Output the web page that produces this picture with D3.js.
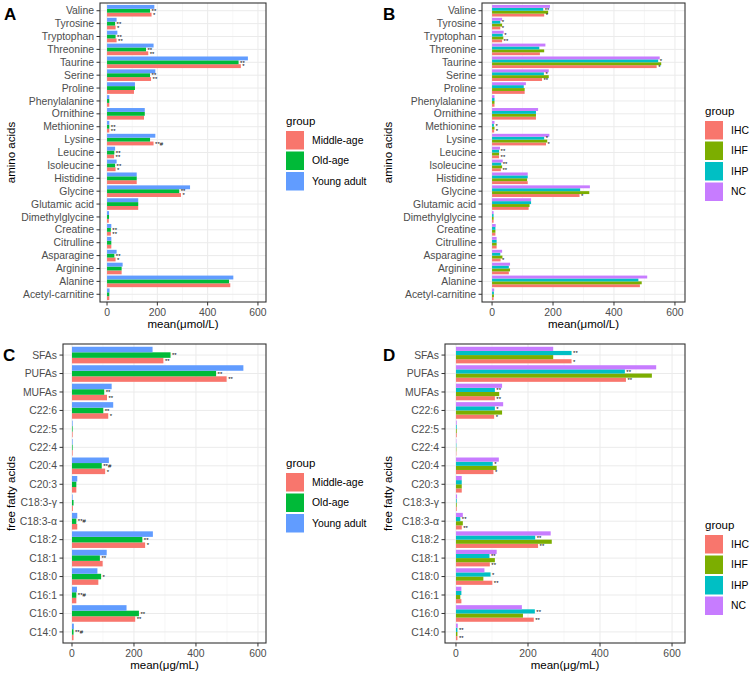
<!DOCTYPE html>
<html>
<head>
<meta charset="utf-8">
<script src="https://cdn.jsdelivr.net/npm/d3@7"></script>
<style>
	body { margin: 0; background: #fff; }
	text { font-family: "Liberation Sans", Arial, sans-serif; }
</style>
</head>
<body>
<svg width="752" height="677"></svg>
<script>
// categories, listed top to bottom as drawn
const aminoAcids = ["Valine", "Tyrosine", "Tryptophan", "Threonine", "Taurine", "Serine", "Proline",
	"Phenylalanine", "Ornithine", "Methionine", "Lysine", "Leucine", "Isoleucine", "Histidine", "Glycine",
	"Glutamic acid", "Dimethylglycine", "Creatine", "Citrulline", "Asparagine", "Arginine", "Alanine",
	"Acetyl-carnitine"];
const fattyAcids = ["SFAs", "PUFAs", "MUFAs", "C22:6", "C22:5", "C22:4", "C20:4", "C20:3", "C18:3-γ",
	"C18:3-α", "C18:2", "C18:1", "C18:0", "C16:1", "C16:0", "C14:0"];

const ageGroups = ["Middle-age", "Old-age", "Young adult"];
const ihGroups = ["IHC", "IHF", "IHP", "NC"];
const xTicks = [0, 200, 400, 600];

// panel A: amino acids by age
const aaMiddle = [177, 34, 38, 164, 532, 175, 107, 9, 147, 9, 185, 28, 34, 118, 294, 124, 7, 15, 17, 34, 58, 490, 9];
const aaOld    = [171, 32, 34, 155, 523, 171, 111, 9, 150, 9, 171, 29, 32, 118, 287, 124, 8, 15, 17, 29, 58, 485, 9];
const aaYoung  = [188, 38, 41, 185, 560, 192, 111, 9, 150, 9, 192, 32, 38, 118, 330, 124, 8, 17, 17, 38, 62, 502, 10];
const aaOldMarks    = ["**", "**", "**", "**", "**", "**", "", "", "", "**", "", "**", "**", "", "**", "", "", "**", "", "**", "", "", ""];
const aaMiddleMarks = ["*", "*", "**", "**", "*", "**", "", "", "", "**", "**#", "**", "*", "", "*", "", "", "**", "", "*", "", "", ""];

// panel B: amino acids by IH group
const aaIHC = [171, 27, 33, 157, 540, 164, 107, 8, 144, 7, 177, 23, 29, 117, 287, 120, 5, 11, 15, 28, 55, 485, 5];
const aaIHF = [184, 33, 37, 171, 555, 186, 107, 8, 144, 8, 181, 23, 33, 115, 319, 123, 5, 11, 15, 34, 59, 491, 6];
const aaIHP = [168, 27, 35, 155, 545, 170, 104, 8, 144, 6, 171, 23, 30, 117, 289, 128, 5, 11, 15, 27, 55, 480, 6];
const aaNC  = [190, 33, 38, 175, 550, 186, 111, 8, 151, 8, 188, 26, 35, 117, 321, 128, 5, 12, 15, 33, 59, 509, 7];
const aaIHPMarks = ["**", "*", "*", "", "*", "*", "", "", "", "*", "*", "**", "**", "", "", "", "", "", "", "", "", "", ""];
const aaIHCMarks = ["*", "*", "**", "", "*", "**", "", "", "", "*", "*", "**", "**", "", "*", "", "", "", "", "*", "", "", ""];

// panel C: fatty acids by age
const faMiddle = [295, 499, 113, 117, 2, 2, 107, 14, 3, 17, 236, 99, 85, 14, 204, 5];
const faOld    = [318, 465, 104, 101, 2, 2, 96, 14, 5, 14, 227, 90, 94, 14, 216, 5];
const faYoung  = [260, 553, 128, 133, 2, 2, 119, 17, 2, 17, 261, 112, 82, 16, 176, 6];
const faOldMarks    = ["**", "**", "**", "**", "", "", "**#", "", "", "**#", "**", "**", "*", "**#", "**", "**#"];
const faMiddleMarks = ["**", "**", "**", "*", "", "", "*", "", "", "", "*", "", "", "", "**", ""];

// panel D: fatty acids by IH group
const faIHC = [321, 472, 108, 106, 2, 1, 104, 16, 2, 16, 228, 94, 101, 15, 216, 4];
const faIHF = [270, 544, 120, 128, 2, 1, 113, 16, 2, 19, 266, 108, 76, 12, 186, 4];
const faIHP = [321, 469, 108, 108, 2, 1, 102, 16, 2, 12, 220, 93, 96, 15, 219, 4];
const faNC  = [270, 556, 128, 131, 2, 1, 119, 16, 3, 19, 263, 113, 79, 15, 183, 5];
const faIHPMarks = ["**", "**", "**", "*", "", "", "*", "", "", "**", "**", "**", "*", "", "**", "**"];
const faIHCMarks = ["*", "**", "**", "*", "", "", "*", "", "", "**", "**", "**", "**", "", "**", "**"];

const ageColours = ["#F8766D", "#00BA38", "#619CFF"];
const ihColours = ["#F8766D", "#7CAE00", "#00BFC4", "#C77CFF"];

const svg = d3.select("svg");

function drawPanel(cfg) {
	const g = svg.append("g");
	const x = d3.scaleLinear().domain(cfg.domain).range([cfg.left, cfg.right]);
	const y = d3.scaleBand().domain(cfg.cats).range([cfg.top, cfg.bottom])
		.paddingInner(0).paddingOuter(0.1);
	const step = y.step();
	// first group sits at the bottom of each dodge
	const sub = d3.scaleBand().domain(cfg.groups.slice().reverse())
		.range([-0.45 * step, 0.45 * step]);

	//grid
	const minor = [100, 300, 500];
	g.selectAll(".minor").data(minor).enter().append("line")
		.attr("x1", d => x(d)).attr("x2", d => x(d))
		.attr("y1", cfg.top).attr("y2", cfg.bottom)
		.attr("stroke", "#F2F2F2").attr("stroke-width", 0.6);
	g.selectAll(".vmajor").data(xTicks).enter().append("line")
		.attr("x1", d => x(d)).attr("x2", d => x(d))
		.attr("y1", cfg.top).attr("y2", cfg.bottom)
		.attr("stroke", "#EBEBEB").attr("stroke-width", 1);
	g.selectAll(".hmajor").data(cfg.cats).enter().append("line")
		.attr("x1", cfg.left).attr("x2", cfg.right)
		.attr("y1", d => y(d) + step / 2).attr("y2", d => y(d) + step / 2)
		.attr("stroke", "#EBEBEB").attr("stroke-width", 1);

	//bars
	cfg.groups.forEach((grp, j) => {
		const vals = cfg.values[j];
		g.append("g").selectAll("rect").data(cfg.cats).enter().append("rect")
			.attr("x", x(0))
			.attr("y", d => y(d) + step / 2 + sub(grp))
			.attr("width", (d, i) => x(vals[i]) - x(0))
			.attr("height", sub.bandwidth())
			.attr("fill", cfg.colours[j]);
	});

	//significance marks
	cfg.marks.forEach(m => {
		const j = cfg.groups.indexOf(m.group);
		const vals = cfg.values[j];
		g.append("g").selectAll("text").data(cfg.cats).enter().append("text")
			.attr("x", (d, i) => x(vals[i]) + 1.5)
			.attr("y", d => y(d) + step / 2 + sub(m.group) + sub.bandwidth() / 2 + 2.3)
			.attr("font-size", 6)
			.attr("fill", "#000")
			.text((d, i) => m.labels[i]);
	});

	//border
	g.append("rect")
		.attr("x", cfg.left).attr("y", cfg.top)
		.attr("width", cfg.right - cfg.left).attr("height", cfg.bottom - cfg.top)
		.attr("fill", "none").attr("stroke", "#333333").attr("stroke-width", 1.1);

	//y axis
	const yAxis = g.append("g");
	yAxis.selectAll("line").data(cfg.cats).enter().append("line")
		.attr("x1", cfg.left - 3.5).attr("x2", cfg.left)
		.attr("y1", d => y(d) + step / 2).attr("y2", d => y(d) + step / 2)
		.attr("stroke", "#333333").attr("stroke-width", 1);
	yAxis.selectAll("text").data(cfg.cats).enter().append("text")
		.attr("x", cfg.left - 6)
		.attr("y", d => y(d) + step / 2)
		.attr("dy", "0.35em")
		.attr("text-anchor", "end")
		.attr("font-size", 10.4)
		.attr("fill", "#4D4D4D")
		.text(d => d);

	//x axis
	const xAxis = g.append("g");
	xAxis.selectAll("line").data(xTicks).enter().append("line")
		.attr("x1", d => x(d)).attr("x2", d => x(d))
		.attr("y1", cfg.bottom).attr("y2", cfg.bottom + 3.5)
		.attr("stroke", "#333333").attr("stroke-width", 1);
	xAxis.selectAll("text").data(xTicks).enter().append("text")
		.attr("x", d => x(d))
		.attr("y", cfg.bottom + 14)
		.attr("text-anchor", "middle")
		.attr("font-size", 10.4)
		.attr("fill", "#4D4D4D")
		.text(d => d);

	//titles
	g.append("text")
		.attr("x", (cfg.left + cfg.right) / 2)
		.attr("y", cfg.bottom + 26)
		.attr("text-anchor", "middle")
		.attr("font-size", 11.5)
		.text(cfg.xTitle);
	g.append("text")
		.attr("transform", "translate(" + cfg.yTitleX + "," + ((cfg.top + cfg.bottom) / 2) + ") rotate(-90)")
		.attr("text-anchor", "middle")
		.attr("font-size", 11.5)
		.text(cfg.yTitle);
	g.append("text")
		.attr("x", cfg.letterX).attr("y", cfg.top + 17)
		.attr("font-size", 17)
		.attr("font-weight", "bold")
		.text(cfg.letter);

	//legend
	const lg = g.append("g");
	lg.append("text")
		.attr("x", cfg.legendX).attr("y", cfg.legendY - 6)
		.attr("font-size", 11.5)
		.text("group");
	cfg.groups.forEach((grp, j) => {
		const ky = cfg.legendY + j * 20.5;
		lg.append("rect")
			.attr("x", cfg.legendX).attr("y", ky)
			.attr("width", 18).attr("height", 18.5)
			.attr("fill", cfg.colours[j]);
		lg.append("text")
			.attr("x", cfg.legendX + 26).attr("y", ky + 9.3)
			.attr("dy", "0.35em")
			.attr("font-size", 10.4)
			.text(grp);
	});
}

drawPanel({
	letter: "A", letterX: 4,
	left: 100, right: 266, top: 3, bottom: 302, domain: [-28, 632],
	cats: aminoAcids, groups: ageGroups, colours: ageColours,
	values: [aaMiddle, aaOld, aaYoung],
	marks: [{ group: "Old-age", labels: aaOldMarks }, { group: "Middle-age", labels: aaMiddleMarks }],
	xTitle: "mean(μmol/L)", yTitle: "amino acids", yTitleX: 15,
	legendX: 286, legendY: 131
});

drawPanel({
	letter: "B", letterX: 383,
	left: 482, right: 685, top: 3, bottom: 302, domain: [-33, 633],
	cats: aminoAcids, groups: ihGroups, colours: ihColours,
	values: [aaIHC, aaIHF, aaIHP, aaNC],
	marks: [{ group: "IHP", labels: aaIHPMarks }, { group: "IHC", labels: aaIHCMarks }],
	xTitle: "mean(μmol/L)", yTitle: "amino acids", yTitleX: 392,
	legendX: 705, legendY: 121
});

drawPanel({
	letter: "C", letterX: 3,
	left: 63, right: 266, top: 344, bottom: 643, domain: [-29, 626],
	cats: fattyAcids, groups: ageGroups, colours: ageColours,
	values: [faMiddle, faOld, faYoung],
	marks: [{ group: "Old-age", labels: faOldMarks }, { group: "Middle-age", labels: faMiddleMarks }],
	xTitle: "mean(μg/mL)", yTitle: "free fatty acids", yTitleX: 15,
	legendX: 286, legendY: 473
});

drawPanel({
	letter: "D", letterX: 383,
	left: 445, right: 685, top: 344, bottom: 643, domain: [-30.5, 636],
	cats: fattyAcids, groups: ihGroups, colours: ihColours,
	values: [faIHC, faIHF, faIHP, faNC],
	marks: [{ group: "IHP", labels: faIHPMarks }, { group: "IHC", labels: faIHCMarks }],
	xTitle: "mean(μg/mL)", yTitle: "free fatty acids", yTitleX: 392,
	legendX: 705, legendY: 535
});
</script>
</body>
</html>
